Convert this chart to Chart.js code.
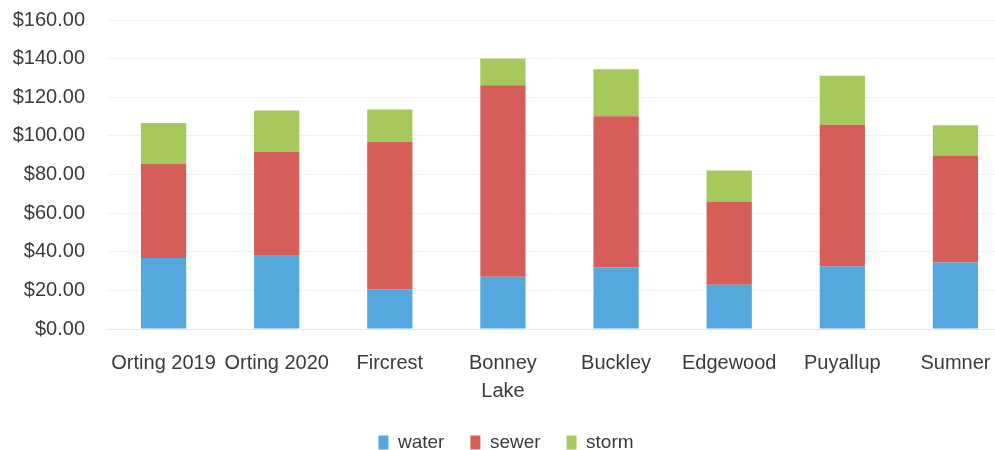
<!DOCTYPE html>
<html>
<head>
<meta charset="utf-8">
<script src="https://cdn.jsdelivr.net/npm/chart.js@4.4.0/dist/chart.umd.min.js"></script>
<style>
  html, body { margin: 0; padding: 0; background: #fff; overflow: hidden; }
  #wrap { width: 1012px; height: 450px; }
</style>
</head>
<body>
<div id="wrap"><canvas id="myChart"></canvas></div>
<script>
// du lieu doc tu hinh
const categories = ['Orting 2019', 'Orting 2020', 'Fircrest', ['Bonney', 'Lake'], 'Buckley', 'Edgewood', 'Puyallup', 'Sumner'];
const water = [36.7, 37.9, 20.6, 27.0, 31.8, 22.9, 32.4, 34.4];
const sewer = [48.8, 53.7, 76.2, 99.2, 78.3, 43.1, 73.4, 55.5];
const storm = [21.2, 21.6, 16.8, 13.9, 24.4, 16.1, 25.3, 15.6];
const yTicks = [0, 20, 40, 60, 80, 100, 120, 140, 160];

const textColor = '#3a3a3a';
const fontFamily = '"Liberation Sans", Arial, sans-serif';

var ctx = document.getElementById('myChart').getContext('2d');
var myChart = new Chart(ctx, {
  type: 'bar',
  data: {
    labels: categories,
    datasets: [
      { label: 'water', data: water, backgroundColor: '#55a8dd' },
      { label: 'sewer', data: sewer, backgroundColor: '#d65e59' },
      { label: 'storm', data: storm, backgroundColor: '#a5c95b' }
    ]
  },
  options: {
    responsive: true,
    maintainAspectRatio: false,
    animation: false,
    layout: { padding: { top: 0, left: 0, right: 0, bottom: -12 } },
    datasets: {
      bar: { barPercentage: 0.4, categoryPercentage: 1.0 }
    },
    plugins: {
      legend: {
        position: 'bottom',
        labels: {
          color: textColor,
          font: { family: fontFamily, size: 19 },
          boxWidth: 10,
          boxHeight: 14,
          padding: 26
        }
      },
      tooltip: { enabled: false }
    },
    scales: {
      x: {
        stacked: true,
        grid: { display: false },
        border: { color: '#e6e6e6' },
        afterFit: axis => { axis.height = 78; },
        ticks: {
          color: textColor,
          font: { family: fontFamily, size: 20, lineHeight: 1.4 },
          maxRotation: 0,
          autoSkip: false,
          padding: 12
        }
      },
      y: {
        stacked: true,
        min: 0,
        max: 160,
        afterBuildTicks: axis => { axis.ticks = yTicks.map(v => ({ value: v })); },
        afterFit: axis => { axis.width = 107; },
        grid: { color: '#f2f2f2', drawTicks: true, tickLength: 14, tickColor: 'rgba(0,0,0,0)' },
        border: { display: false },
        ticks: {
          color: textColor,
          font: { family: fontFamily, size: 20 },
          padding: 8,
          callback: v => '$' + v.toFixed(2)
        }
      }
    }
  }
});
</script>
</body>
</html>
